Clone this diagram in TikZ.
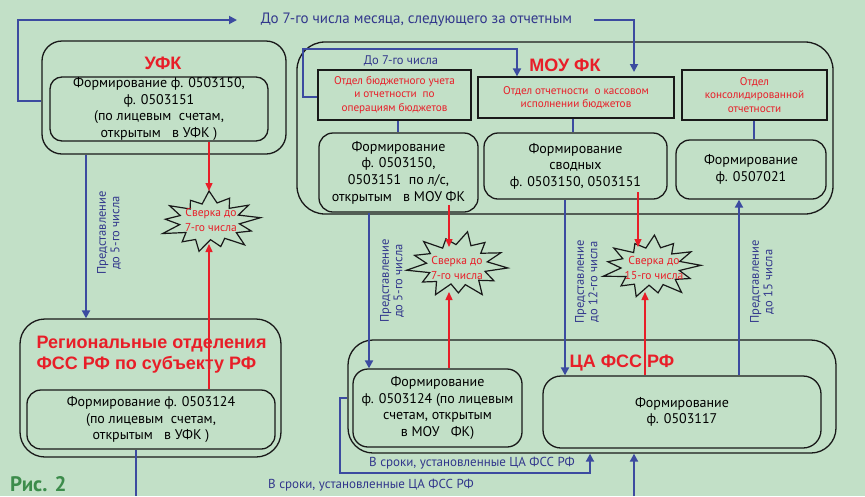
\documentclass[tikz,border=0pt]{standalone}
\usepackage{fontspec}
\setmainfont{PT Sans}
\newfontfamily\titlefont{Liberation Sans}
\usetikzlibrary{arrows.meta}
\definecolor{bg}{RGB}{194,224,199}
\definecolor{bluec}{RGB}{60,75,160}
\definecolor{bluet}{RGB}{50,55,140}
\definecolor{redc}{RGB}{232,30,40}
\definecolor{boxc}{RGB}{25,25,25}
\definecolor{greenc}{RGB}{60,140,75}
% irregular starburst: #1 x, #2 y, #3 rx, #4 ry, #5 angle offset
\newcommand\myburst[5]{%
  \draw[boxc, line width=1.2pt, line join=miter]
    ({#1+#3*cos(#5)},{#2+#4*sin(#5)})
    \foreach \rr [count=\ii] in {0.58,0.86,0.62,1.0,0.6,0.82,0.57,0.97,0.63,0.84,0.58,1.0,0.6,
                                 0.88,0.62,0.95,0.57,0.8,0.6,1.0,0.63,0.86,0.58,0.93,0.6}
      { -- ({#1+#3*\rr*cos(#5+\ii*360/26)},{#2+#4*\rr*sin(#5+\ii*360/26)}) }
    -- cycle;}
\begin{document}
\begin{tikzpicture}[x=1pt,y=-1pt,
  rbox/.style={draw=boxc, line width=1.3pt, rounded corners=#1, inner sep=0pt, align=center,
     font=\fontsize{14}{16.6}\selectfont},
  dept/.style={draw=boxc, line width=1.3pt, inner sep=0pt, align=center, text=redc,
     font=\fontsize{11.2}{13.5}\selectfont},
  ttl/.style={text=redc, font=\titlefont\bfseries\fontsize{18}{21}\selectfont},
  bthick/.style={draw=bluec, line width=2.8pt},
  bthin/.style={draw=bluec, line width=1.8pt},
  btip/.style={-{Triangle[length=8pt,width=8pt]}},
  rarr/.style={draw=redc, line width=1.4pt, -{Triangle[length=8pt,width=7pt]}},
  vlabel/.style={rotate=90, text=bluet, align=center, font=\fontsize{12.5}{13.5}\selectfont},
  blab/.style={text=bluet, font=\fontsize{13}{15}\selectfont},
  startext/.style={text=redc, align=center, font=\fontsize{11.5}{15}\selectfont}
]
\useasboundingbox (0,0) rectangle (865,496);
\fill[bg] (0,0) rectangle (865,496);

% ---------- UFK ----------
\node[rbox=20pt, minimum width=244pt, minimum height=113pt] (ufk) at (164,97.5) {};
\node[ttl] (ufkt) at (163,63) {УФК};
\node[rbox=12pt, minimum width=218pt, minimum height=64pt] (ufkin) at (159,109)
  {Формирование ф. 0503150,\\ ф. 0503151\\ (по лицевым~ счетам,\\ открытым~~ в УФК )};

% ---------- Regional ----------
\node[rbox=25pt, minimum width=261pt, minimum height=138pt] (reg) at (150.5,388) {};
\node[ttl, anchor=west, align=left, font=\titlefont\bfseries\fontsize{18}{21}\selectfont] (regt) at (33,354.5)
  {Региональные отделения\\ФСС РФ по субъекту РФ};
\node[rbox=14pt, minimum width=248pt, minimum height=59pt] (regin) at (151,419.5)
  {Формирование ф. 0503124\\ (по лицевым~ счетам,\\ открытым~~ в УФК )};

% ---------- MOU FK ----------
\node[rbox=28pt, minimum width=536pt, minimum height=172pt] (mou) at (565,128) {};
\node[ttl] (mout) at (565,65) {МОУ ФК};
\node[dept, minimum width=153pt, minimum height=50pt] (A) at (394.5,95)
  {Отдел бюджетного учета\\ и отчетности~ по\\ операциям бюджетов};
\node[dept, minimum width=196pt, minimum height=41pt] (B) at (576,97.5)
  {Отдел отчетности~ о кассовом\\ исполнении бюджетов};
\node[dept, minimum width=145pt, minimum height=50pt] (C) at (754.5,95)
  {Отдел\\ консолидированной\\ отчетности};
\node[rbox=14pt, minimum width=159pt, minimum height=79pt] (D) at (398.5,172.5)
  {Формирование\\ ф. 0503150,\\ 0503151~ по л/с,\\ открытым~~ в МОУ ФК};
\node[rbox=14pt, minimum width=183pt, minimum height=66pt] (E) at (575.5,166)
  {Формирование\\ сводных\\ ф. 0503150, 0503151};
\node[rbox=14pt, minimum width=150pt, minimum height=59pt] (F) at (751,169.5)
  {Формирование\\ ф. 0507021};

% ---------- CA FSS ----------
\node[rbox=25pt, minimum width=488pt, minimum height=113pt] (ca) at (592,396.5) {};
\node[ttl] (cat) at (622,363) {ЦА ФСС РФ};
\node[rbox=15pt, minimum width=169pt, minimum height=78pt] (G) at (437.5,408)
  {Формирование\\ ф. 0503124 (по лицевым\\ счетам, открытым\\ в МОУ~~ ФК)};
\node[rbox=18pt, minimum width=278pt, minimum height=72pt] (H) at (682,412)
  {Формирование\\ ф. 0503117};

% ---------- stars ----------
\myburst{210}{222}{51}{31}{-8}
\myburst{457}{265}{51}{34}{5}
\myburst{651}{267}{50}{32}{-3}
\node[startext] (s1t) at (211,220) {Сверка до\\ 7-го числа};
\node[startext] (s2t) at (457,268) {Сверка до\\ 7-го числа};
\node[startext] (s3t) at (654,268) {Сверка до\\ 15-го числа};

% ---------- thin connectors A-D, B-E, C-F ----------
\draw[draw=bluec, line width=1.3pt] (A.south -| 398,0) -- (D.north -| 398,0);
\draw[draw=bluec, line width=1.3pt] (B.south -| 573,0) -- (E.north -| 573,0);
\draw[draw=bluec, line width=1.3pt] (C.south -| 754,0) -- (F.north -| 754,0);

% ---------- top blue loop ----------
\node[text=bluet, font=\fontsize{15}{17}\selectfont] (toptext) at (416.5,20)
  {До 7-го числа месяца, следующего за отчетным};
\coordinate (tipTop) at (237,20);
\coordinate (bIn) at (634,72);
\draw[bthin, btip] (ufk.west |- 0,101) -- (18,101) -- (18,20) -- (tipTop);
\draw[bthin, btip] (594,20) -- (634,20) -- (bIn);

% ---------- A -> B loop ----------
\node[blab, font=\fontsize{12.5}{14}\selectfont] (a7) at (401,61) {До 7-го числа};
\draw[bthin, btip] (A.west |- 0,97) -- (303,97) -- (303,49) -- (517,49) -- (B.north -| 517,0);

% ---------- thick blue ----------
\draw[bthick, btip] (ufk.south -| 86,0) -- (reg.north -| 86,0);
\draw[bthick, btip] (D.south -| 369,0) -- (G.north -| 369,0);
\draw[bthick, btip] (E.south -| 565,0) -- (H.north -| 565,0);
\draw[bthick, btip] (H.north -| 739,0) -- (F.south -| 739,0);
\coordinate (botL) at (136,496);
\coordinate (botR) at (634,496);
\draw[bthick] (regin.south -| 136,0) -- (botL);
\draw[bthick, btip] (botR) -- (ca.south -| 634,0);
\node[blab] (bt2) at (371,485) {В сроки, установленные ЦА ФСС РФ};

% ---------- CA loop ----------
\draw[bthin, btip] (ca.west |- 0,398) -- (340,398) -- (340,473) -- (590,473) -- (ca.south -| 590,0);
\node[blab] (bt1) at (472,463) {В сроки, установленные ЦА ФСС РФ};

% ---------- vertical labels ----------
\node[vlabel] (v1) at (109,233) {Представление\\до 5-го числа};
\node[vlabel] (v2) at (392,281) {Представление\\до 5-го числа};
\node[vlabel] (v3) at (587,282) {Представление\\до 12-го числа};
\node[vlabel] (v4) at (762,282) {Представление\\до 15 числа};

% ---------- red arrows ----------
\draw[rarr] (ufkin.south -| 209,0) -- (209,191);
\draw[rarr] (regin.north -| 209,0) -- (209,244);
\draw[rarr] (449,205) -- (449,247);
\draw[rarr] (G.north -| 449,0) -- (449,292);
\draw[rarr] (638,192) -- (638,247);
\draw[rarr] (H.north -| 645,0) -- (645,292);

% ---------- figure label ----------
\node[anchor=west, inner sep=0pt, text=greenc, font=\bfseries\fontsize{21}{23}\selectfont] (fig) at (10,484) {Рис. 2};
\end{tikzpicture}
\end{document}
